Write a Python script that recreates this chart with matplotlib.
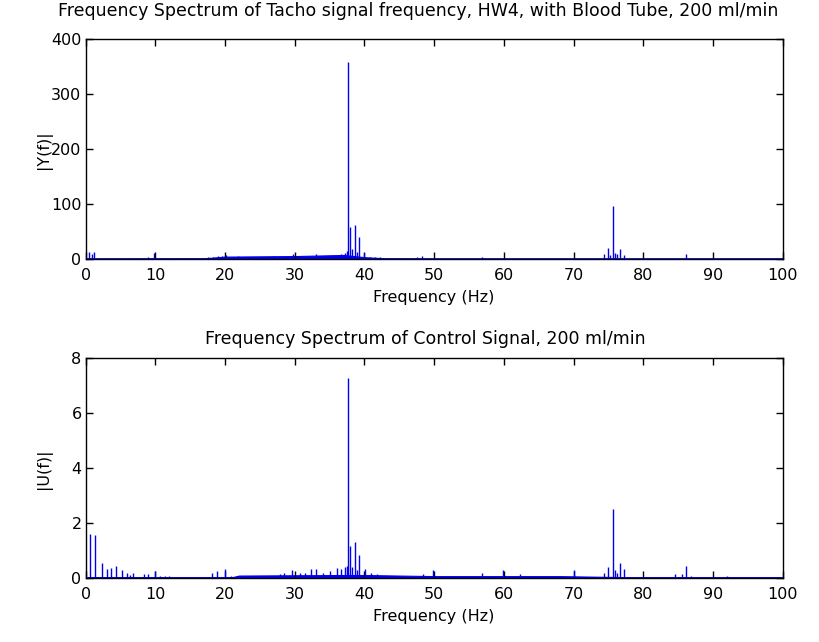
import numpy as np
import matplotlib
matplotlib.use('Agg')
import matplotlib.pyplot as plt

plt.rcParams['font.family'] = 'DejaVu Sans'
plt.rcParams['font.size'] = 11.5

# tacho signal spectrum |Y(f)|: peaks (Hz, amplitude)
tacho_f = [0.5, 0.9, 1.2, 4.7, 9.0, 9.8, 10.9, 15.9, 17.5, 18.3, 19.0, 19.6, 20.2,
           21.0, 21.8, 22.6, 23.4, 24.1, 25.0, 26.2, 27.0, 27.6, 28.5, 29.3, 29.8,
           31.0, 32.2, 33.0, 33.6, 34.4, 35.3, 36.1, 36.7, 37.2, 37.5, 37.7, 37.9,
           38.2, 38.6, 38.9, 39.25, 40.0, 40.8, 41.5, 42.2, 43.2, 47.5, 48.3, 48.9,
           56.8, 74.3, 75.0, 75.3, 75.6, 75.9, 76.2, 76.6, 77.3, 86.2]
tacho_a = [13, 10, 13, 3, 5, 11, 3, 3, 4, 5, 7, 6, 8,
           5, 6, 4, 5, 5, 4, 5, 6, 4, 5, 7, 9,
           5, 6, 10, 7, 5, 5, 8, 10, 12, 15, 359, 59,
           18, 62, 14, 40, 12, 5, 5, 5, 3, 4, 7, 3,
           4, 10, 20, 8, 97.5, 12, 9, 19, 8, 9]
# broadband floor under the peaks
tacho_floor_f = [0, 17, 20, 30, 37, 40, 43, 50, 74, 78, 100]
tacho_floor_a = [1.5, 2, 5, 6, 8, 4, 2, 1.5, 1.5, 1.5, 1.5]

# control signal spectrum |U(f)|
ctrl_f = [0.62, 1.34, 2.3, 3.0, 3.6, 4.4, 5.2, 5.9, 6.4, 6.8, 8.3, 9.0, 9.9, 10.7,
          11.4, 11.9, 18.1, 18.8, 20.0, 20.9, 26.0, 27.9, 28.4, 29.6, 30.7, 31.5,
          32.4, 33.1, 34.1, 35.0, 36.0, 36.7, 37.2, 37.5, 37.7, 37.9, 38.2, 38.6,
          38.9, 39.25, 40.1, 41.0, 41.8, 48.4, 49.9, 56.8, 59.9, 62.3, 70.0, 74.3,
          75.0, 75.6, 75.9, 76.2, 76.6, 77.3, 84.6, 85.5, 86.2, 86.9, 92.0]
ctrl_a = [1.61, 1.58, 0.57, 0.33, 0.36, 0.45, 0.3, 0.2, 0.12, 0.2, 0.15, 0.15, 0.28, 0.1,
          0.1, 0.1, 0.2, 0.25, 0.33, 0.1, 0.1, 0.15, 0.18, 0.3, 0.2, 0.18,
          0.35, 0.35, 0.2, 0.25, 0.38, 0.35, 0.4, 0.45, 7.29, 1.19, 0.4, 1.31,
          0.3, 0.85, 0.33, 0.2, 0.15, 0.15, 0.3, 0.2, 0.3, 0.15, 0.3, 0.2,
          0.4, 2.52, 0.3, 0.2, 0.55, 0.35, 0.15, 0.15, 0.45, 0.1, 0.08]
ctrl_floor_f = [0, 21, 22, 37, 40, 50, 68, 78, 100]
ctrl_floor_a = [0.04, 0.04, 0.1, 0.12, 0.12, 0.08, 0.08, 0.04, 0.04]

blue = '#0000ee'

fig = plt.figure(figsize=(8.19, 6.42), dpi=100)
ax1 = fig.add_axes([0.1046, 0.596, 0.851, 0.3427])
ax2 = fig.add_axes([0.1046, 0.0992, 0.851, 0.3427])


def spectrum(ax, f, a, ff, fa, ymax, step, ylabel, title, tx, tpad):
    ax.fill_between(ff, 0, fa, color=blue, linewidth=0.8)
    ax.vlines(f, 0, a, color=blue, linewidth=1.0)
    ax.plot([0, 100], [0, 0], color=blue, linewidth=1.8)
    ax.set_xlim(0, 100)
    ax.set_ylim(0, ymax)
    ax.set_xticks(np.arange(0, 101, 10))
    ax.set_yticks(np.arange(0, ymax + step / 2, step))
    ax.tick_params(direction='in', top=True, right=True, length=5, width=1)
    ax.tick_params(axis='x', pad=6)
    ax.tick_params(axis='y', pad=3)
    for s in ax.spines.values():
        s.set_linewidth(1)
    ax.set_xlabel('Frequency (Hz)')
    ax.xaxis.set_label_coords(0.5, -0.14)
    ax.set_ylabel(ylabel)
    ax.yaxis.set_label_coords(-0.048, 0.5)
    ax.set_title(title, x=tx, pad=tpad, fontsize=12.5)


spectrum(ax1, tacho_f, tacho_a, tacho_floor_f, tacho_floor_a, 400, 100, '|Y(f)|',
         'Frequency Spectrum of Tacho signal frequency, HW4, with Blood Tube, 200 ml/min',
         0.4767, 17)
spectrum(ax2, ctrl_f, ctrl_a, ctrl_floor_f, ctrl_floor_a, 8, 2, '|U(f)|',
         'Frequency Spectrum of Control Signal, 200 ml/min', 0.488, 10)

fig.savefig('out.png', dpi=100)
